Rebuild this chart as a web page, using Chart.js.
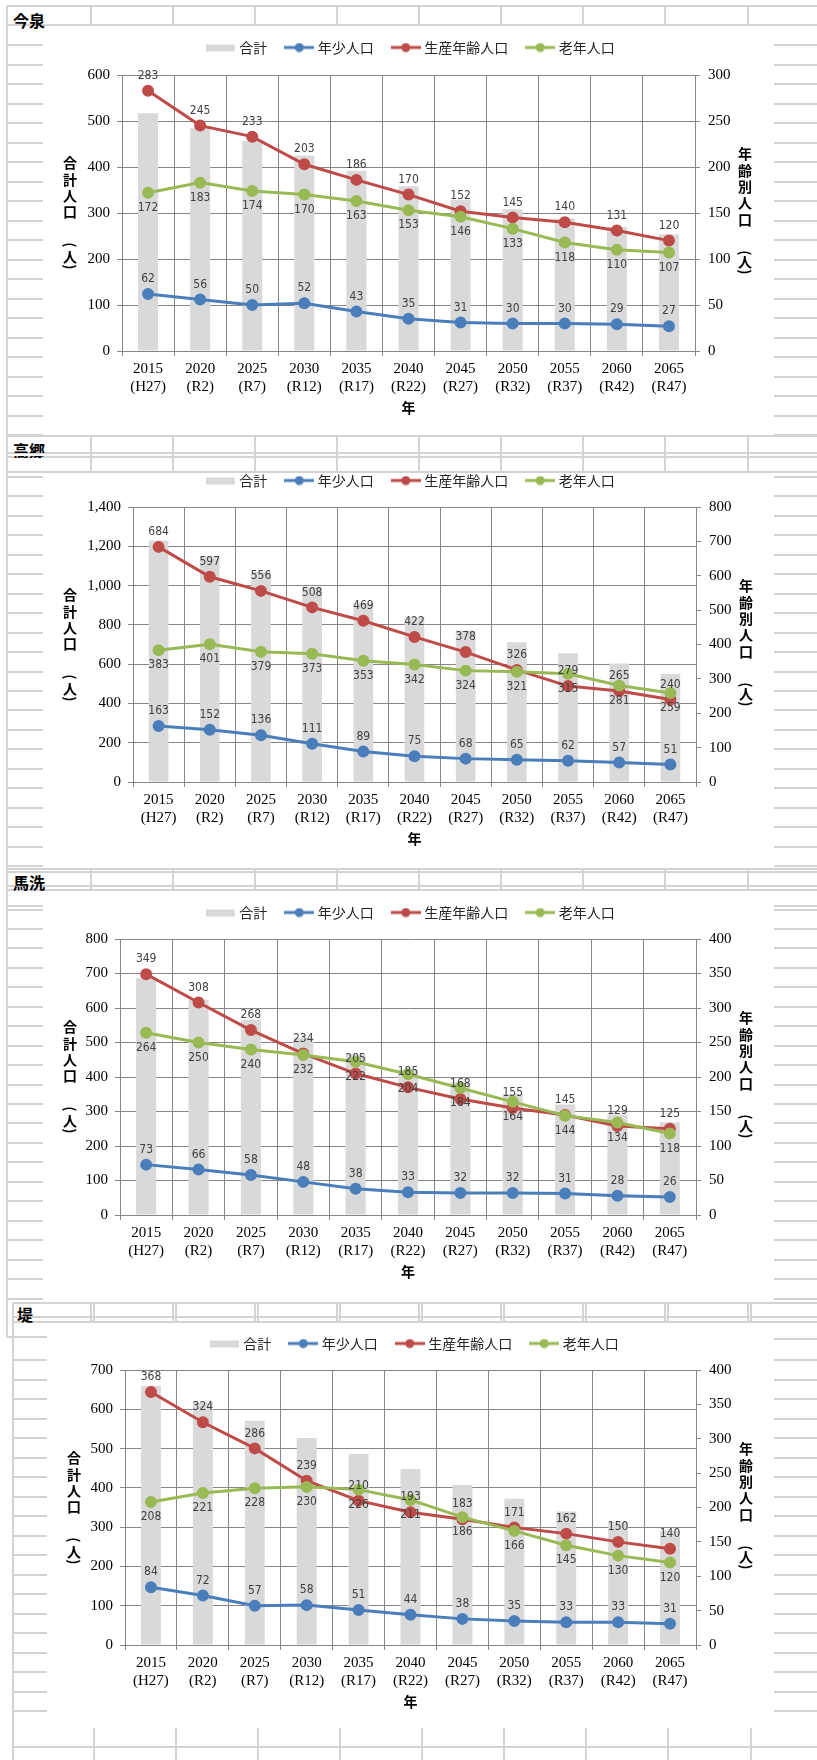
<!DOCTYPE html>
<html lang="ja">
<head>
<meta charset="utf-8">
<title>地区別人口の推移</title>
<script src="https://cdn.jsdelivr.net/npm/chart.js@4.4.1/dist/chart.umd.min.js"></script>
<style>
  html, body { margin: 0; padding: 0; background: #fff; }
  #sheet { position: relative; width: 817px; height: 1760px; overflow: hidden; }
  .ln { position: absolute; background: #d3d3d3; }
  .area { position: absolute; overflow: hidden; font: bold 16px "Noto Sans CJK JP", sans-serif; line-height: 16px; color: #000; white-space: nowrap; }
  .area span { position: absolute; left: 0; }
  canvas { position: absolute; }
</style>
</head>
<body>
<div id="sheet"></div>
<script>
// 横軸
const years = ['2015', '2020', '2025', '2030', '2035', '2040', '2045', '2050', '2055', '2060', '2065'];
const eras = ['(H27)', '(R2)', '(R7)', '(R12)', '(R17)', '(R22)', '(R27)', '(R32)', '(R37)', '(R42)', '(R47)'];
const seriesNames = ['合計', '年少人口', '生産年齢人口', '老年人口'];
const areaNames = ['今泉', '高郷', '馬洗', '堤'];

// 今泉
const imaizumiTotal   = [517, 484, 457, 425, 392, 358, 329, 308, 288, 270, 254];
const imaizumiYoung   = [62, 56, 50, 52, 43, 35, 31, 30, 30, 29, 27];
const imaizumiWorking = [283, 245, 233, 203, 186, 170, 152, 145, 140, 131, 120];
const imaizumiElderly = [172, 183, 174, 170, 163, 153, 146, 133, 118, 110, 107];

// 高郷
const takasatoTotal   = [1230, 1150, 1071, 992, 911, 839, 770, 712, 656, 603, 550];
const takasatoYoung   = [163, 152, 136, 111, 89, 75, 68, 65, 62, 57, 51];
const takasatoWorking = [684, 597, 556, 508, 469, 422, 378, 326, 279, 265, 240];
const takasatoElderly = [383, 401, 379, 373, 353, 342, 324, 321, 315, 281, 259];

// 馬洗
const maaraiTotal   = [686, 624, 566, 514, 465, 422, 384, 351, 320, 291, 269];
const maaraiYoung   = [73, 66, 58, 48, 38, 33, 32, 32, 31, 28, 26];
const maaraiWorking = [349, 308, 268, 234, 205, 185, 168, 155, 145, 129, 125];
const maaraiElderly = [264, 250, 240, 232, 222, 204, 184, 164, 144, 134, 118];

// 堤
const tsutsumiTotal   = [660, 617, 571, 527, 487, 448, 407, 372, 340, 313, 291];
const tsutsumiYoung   = [84, 72, 57, 58, 51, 44, 38, 35, 33, 33, 31];
const tsutsumiWorking = [368, 324, 286, 239, 210, 193, 183, 171, 162, 150, 140];
const tsutsumiElderly = [208, 221, 228, 230, 226, 211, 186, 166, 145, 130, 120];

// 目盛り（左：合計人口、右：年齢別人口）
const leftMax = [600, 1400, 800, 700];
const leftStep = [100, 200, 100, 100];
const rightMax = [300, 800, 400, 400];
const rightStep = [50, 100, 50, 50];

const totals = [imaizumiTotal, takasatoTotal, maaraiTotal, tsutsumiTotal];
const young = [imaizumiYoung, takasatoYoung, maaraiYoung, tsutsumiYoung];
const working = [imaizumiWorking, takasatoWorking, maaraiWorking, tsutsumiWorking];
const elderly = [imaizumiElderly, takasatoElderly, maaraiElderly, tsutsumiElderly];

const COLORS = ['#d9d9d9', '#4a7ebb', '#be4b48', '#98b954'];
const GRID = '#868686';
const CANVAS_W = 731;

// グラフ毎の配置
const panels = [
  { x: 43, legendY: 47,   plot: { l: 122, r: 695, t: 75,   b: 351 } },
  { x: 43, legendY: 480,  plot: { l: 133, r: 696, t: 507,  b: 782 } },
  { x: 43, legendY: 912,  plot: { l: 120, r: 696, t: 939,  b: 1215 } },
  { x: 47, legendY: 1343, plot: { l: 125, r: 696, t: 1370, b: 1645 } }
];

// ---- シートの罫線 ----
const sheet = document.getElementById('sheet');
function rule(x, y, w, h) {
  const d = document.createElement('div');
  d.className = 'ln';
  d.style.cssText = `left:${x}px;top:${y}px;width:${w}px;height:${h}px`;
  sheet.appendChild(d);
}
const hline = (x1, x2, y) => rule(x1, Math.round(y) - 1, x2 - x1, 2);
const vline = (x, y1, y2) => rule(Math.round(x) - 1, y1, 2, y2 - y1);
const cols = [91, 173, 255, 337, 419, 501, 583, 665, 748];
function sideRows(from, to, step, leftX, innerX) {
  for (let y = from; y <= to; y += step) {
    hline(leftX, innerX, y);
    hline(774, 817, y);
  }
}

// 今泉
hline(7, 817, 6);
vline(7, 6, 1337);
hline(7, 817, 25);
cols.forEach(x => vline(x, 6, 25));
sideRows(45, 436, 19.5, 8, 43);
// 高郷
[436, 453, 457, 472].forEach(y => hline(7, 817, y));
cols.forEach(x => vline(x, 436, 472));
sideRows(477, 867, 19.45, 8, 43);
// 馬洗
[869, 872, 886, 890].forEach(y => hline(7, 817, y));
cols.forEach(x => vline(x, 869, 890));
hline(8, 43, 906); hline(774, 817, 906);
sideRows(909.5, 1300, 19.45, 8, 43);
// 堤
hline(7, 43, 1299);
[1303, 1317, 1322].forEach(y => hline(13, 817, y));
cols.forEach(x => { vline(x, 1303, 1322); vline(x + 2.5, 1303, 1322); });
vline(13, 1303, 1760);
hline(7, 47, 1337);
hline(774, 817, 1339);
sideRows(1360, 1728, 19.5, 14, 47);
hline(13, 817, 1747);
cols.forEach(x => vline(x + 2.5, 1728, 1760));

// ---- 地区名 ----
function areaLabel(text, x, top, height, shift) {
  const d = document.createElement('div');
  d.className = 'area';
  d.style.cssText = `left:${x}px;top:${top}px;width:60px;height:${height}px`;
  const s = document.createElement('span');
  s.textContent = text;
  s.style.top = (shift || 0) + 'px';
  d.appendChild(s);
  sheet.appendChild(d);
}
areaLabel(areaNames[0], 13, 11.5, 17);
areaLabel(areaNames[1], 13, 441.5, 11.5);
areaLabel(areaNames[1], 13, 455.5, 2.5, -14);
areaLabel(areaNames[2], 13, 873.5, 17);
areaLabel(areaNames[3], 17, 1305.5, 17);

// ---- 凡例の記号 ----
function swatch(color, isBar) {
  const c = document.createElement('canvas');
  c.width = 30; c.height = 10;
  const g = c.getContext('2d');
  if (isBar) {
    g.fillStyle = color;
    g.fillRect(0, 2, 29, 7);
  } else {
    g.strokeStyle = color; g.lineWidth = 3;
    g.beginPath(); g.moveTo(0, 5); g.lineTo(30, 5); g.stroke();
    g.fillStyle = color;
    g.beginPath(); g.arc(15, 5, 4.5, 0, Math.PI * 2); g.fill();
  }
  return c;
}
const swatches = COLORS.map((c, k) => swatch(c, k === 0));
// 数値ラベルの位置（-1:上、1:下）
const labelSide = [0, -1, -1, 1];

// 凡例とグラフ領域の間隔
const legendGap = {
  id: 'legendGap',
  beforeInit(chart, args, opts) {
    const legend = chart.legend;
    const fit = legend.fit;
    legend.fit = function () {
      fit.call(legend);
      legend.height = opts.height;
    };
  }
};

// 折れ線の数値ラベル
const pointLabels = {
  id: 'pointLabels',
  afterDatasetsDraw(chart) {
    const ctx = chart.ctx;
    ctx.save();
    ctx.font = '12px "Liberation Sans Narrow", "DejaVu Sans Condensed", sans-serif';
    ctx.fillStyle = '#404040';
    ctx.textAlign = 'center';
    ctx.textBaseline = 'middle';
    chart.data.datasets.forEach((ds, i) => {
      if (!labelSide[i]) return;
      chart.getDatasetMeta(i).data.forEach((pt, j) => {
        ctx.fillText(String(ds.data[j]), pt.x, pt.y + labelSide[i] * 15);
      });
    });
    ctx.restore();
  }
};

// 軸タイトル（縦書き）
const axisTitles = {
  id: 'axisTitles',
  afterDraw(chart, args, opts) {
    const { ctx, chartArea } = chart;
    ctx.save();
    ctx.font = 'bold 14px "Noto Sans CJK JP", sans-serif';
    ctx.fillStyle = '#000';
    ctx.textAlign = 'center';
    ctx.textBaseline = 'middle';
    const column = (text, x, steps) => {
      [...text].forEach((ch, k) => {
        const y = chartArea.top + steps[k];
        if (ch === '（' || ch === '）') {
          ctx.save();
          ctx.translate(x, y);
          ctx.rotate(Math.PI / 2);
          ctx.fillText(ch === '（' ? '(' : ')', 0, 0);
          ctx.restore();
        } else {
          ctx.fillText(ch, x, y);
        }
      });
    };
    column(opts.left, 27, [88, 105, 121, 137, 170, 182, 192]);
    column(opts.right, chartArea.right + 50, [79, 96, 112, 128, 145, 178, 187, 197]);
    ctx.fillText(opts.bottom, (chartArea.left + chartArea.right) / 2, chartArea.bottom + 57);
    ctx.restore();
  }
};

const tickFont = { family: '"Liberation Serif", serif', size: 15 };

panels.forEach((p, i) => {
  const top = Math.round(p.legendY - 27.5);
  const cv = document.createElement('canvas');
  cv.width = CANVAS_W;
  cv.height = p.plot.b + 70 - top;
  cv.style.left = p.x + 'px';
  cv.style.top = top + 'px';
  sheet.appendChild(cv);

  const line = (k, data) => ({
    type: 'line', label: seriesNames[k], data, yAxisID: 'y2', order: 3 - k,
    borderColor: COLORS[k], backgroundColor: COLORS[k],
    pointBackgroundColor: COLORS[k], pointBorderColor: COLORS[k],
    borderWidth: 3, pointRadius: 4.5, pointHoverRadius: 4.5, tension: 0, fill: false
  });

  new Chart(cv, {
    type: 'bar',
    data: {
      labels: years,
      datasets: [
        { type: 'bar', label: seriesNames[0], data: totals[i], yAxisID: 'y', order: 4,
          backgroundColor: COLORS[0], barPercentage: 0.4, categoryPercentage: 0.96 },
        line(1, young[i]),
        line(2, working[i]),
        line(3, elderly[i])
      ]
    },
    options: {
      responsive: false,
      animation: false,
      layout: { padding: { left: 7, right: 0, top: 0, bottom: 0 } },
      plugins: {
        tooltip: { enabled: false },
        legend: {
          position: 'top',
          labels: {
            usePointStyle: true,
            pointStyleWidth: 23,
            padding: 20.5,
            color: '#262626',
            font: { family: '"Noto Sans CJK JP", sans-serif', size: 14 },
            generateLabels: chart => chart.data.datasets.map((ds, k) => ({
              text: ds.label, pointStyle: swatches[k], datasetIndex: k, hidden: false,
              lineWidth: 0, fillStyle: COLORS[k], strokeStyle: COLORS[k], fontColor: '#262626'
            }))
          }
        },
        legendGap: { height: p.plot.t - top },
        axisTitles: { left: '合計人口（人）', right: '年齢別人口（人）', bottom: '年' }
      },
      scales: {
        x: {
          grid: { color: GRID, tickColor: GRID, tickLength: 5 },
          border: { color: GRID },
          ticks: {
            color: '#000', padding: 4, maxRotation: 0, autoSkip: false,
            font: { ...tickFont, lineHeight: 1.2 },
            callback: (v, k) => [years[k], eras[k]]
          },
          afterFit: s => { s.height = 70; }
        },
        y: {
          position: 'left', min: 0, max: leftMax[i],
          grid: { color: GRID, tickColor: GRID, tickLength: 5 },
          border: { color: GRID },
          ticks: {
            stepSize: leftStep[i], color: '#000', padding: 7, font: tickFont,
            callback: v => v.toLocaleString('en-US')
          },
          afterFit: s => { s.width = p.plot.l - p.x - 7; }
        },
        y2: {
          position: 'right', min: 0, max: rightMax[i],
          grid: { drawOnChartArea: false, color: GRID, tickColor: GRID, tickLength: 5 },
          border: { color: GRID },
          ticks: { stepSize: rightStep[i], color: '#000', padding: 8, font: tickFont },
          afterFit: s => { s.width = p.x + CANVAS_W - p.plot.r; }
        }
      }
    },
    plugins: [legendGap, pointLabels, axisTitles]
  });
});
</script>
</body>
</html>
